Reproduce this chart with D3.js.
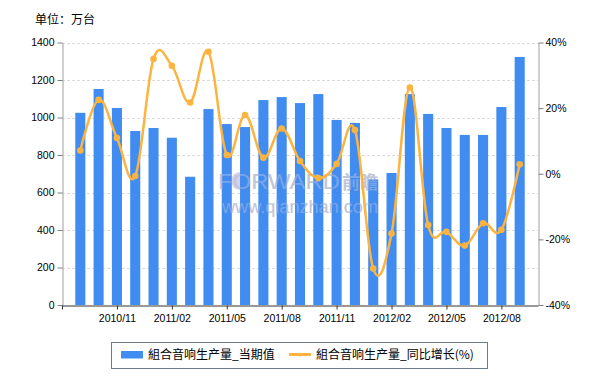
<!DOCTYPE html>
<html><head><meta charset="utf-8">
<script src="https://cdn.jsdelivr.net/npm/d3@7"></script>
<style>
html,body{margin:0;padding:0;background:#fff;}
svg{display:block;}
text{font-family:"Liberation Sans",Arial,sans-serif;}
.cjk{font-family:"Noto Sans CJK SC","Noto Sans",sans-serif;}
</style></head>
<body>
<svg id="c" width="600" height="380"></svg>
<script>
const categories = ["2010/09","2010/10","2010/11","2010/12","2011/01","2011/02","2011/03","2011/04","2011/05","2011/06","2011/07","2011/08","2011/09","2011/10","2011/11","2011/12","2012/01","2012/02","2012/03","2012/04","2012/05","2012/06","2012/07","2012/08","2012/09"];
const output = [1025,1152,1051,928,944,892,684,1045,965,949,1093,1109,1077,1125,987,971,670,704,1125,1019,944,907,907,1056,1323];
const growth = [7.1,22.5,10.9,-0.7,35.0,32.9,21.7,37.2,5.7,17.9,4.9,13.8,3.9,-1.3,3.0,13.3,-28.9,-18.2,26.3,-15.6,-17.7,-21.9,-15.1,-17.1,2.9];
const leftTicks = [0,200,400,600,800,1000,1200,1400];
const rightTicks = [-40,-20,0,20,40];
const xTickIdx = [-1,2,5,8,11,14,17,20,23];
const unitLabel = "单位：万台";
const seriesNames = ["組合音响生产量_当期值","組合音响生产量_同比增长(%)"];

const barColor = "#418CF0", lineColor = "#FCB441";
const svg = d3.select("#c");
const L = 62, R = 538, T = 42.5, B = 305;

const x = d3.scaleLinear().domain([-1, categories.length]).range([L, R]);
const yL = d3.scaleLinear().domain([0, 1400]).range([B, T]);
const yR = d3.scaleLinear().domain([-40, 40]).range([B, T]);
const bw = (x(1) - x(0)) * 0.55;

// title
svg.append("text").attr("class","cjk").attr("x",35).attr("y",23.5)
  .attr("font-size",12).attr("fill","#000").text(unitLabel);

// grid
svg.append("g").selectAll("line").data(leftTicks.slice(1)).join("line")
  .attr("x1",L).attr("x2",R).attr("y1",d=>Math.round(yL(d))+0.5).attr("y2",d=>Math.round(yL(d))+0.5)
  .attr("stroke","#dcdcdc").attr("stroke-dasharray","3,2");

// watermark
const wm = svg.append("g").attr("opacity",0.75);
wm.append("circle").attr("cx",240).attr("cy",181).attr("r",9).attr("fill","#b8a8d8").attr("opacity",0.7);
wm.append("text").attr("x",218).attr("y",189).attr("font-family","Liberation Serif,serif")
  .attr("font-size",22).attr("fill","#a8b0c4").attr("textLength",122).attr("lengthAdjust","spacingAndGlyphs").text("FORWARD");
wm.append("text").attr("class","cjk").attr("x",342).attr("y",189).attr("font-size",18).attr("font-weight","bold")
  .attr("fill","#a8b0c4").text("前瞻");
wm.append("text").attr("x",222).attr("y",213).attr("font-size",18).attr("fill","#a8b0c4")
  .attr("textLength",156).attr("lengthAdjust","spacingAndGlyphs").text("www.qianzhan.com");

// bars
svg.append("g").selectAll("rect").data(output).join("rect")
  .attr("x",(d,i)=>x(i)-bw/2).attr("width",bw)
  .attr("y",d=>yL(d)).attr("height",d=>B-yL(d)).attr("fill",barColor);

// watermark overlay on bars (semi-transparent)
const wm2 = svg.append("g").attr("opacity",0.4);
wm2.append("text").attr("x",218).attr("y",189).attr("font-family","Liberation Serif,serif")
  .attr("font-size",22).attr("fill","#c8cce0").attr("textLength",122).attr("lengthAdjust","spacingAndGlyphs").text("FORWARD");
wm2.append("text").attr("class","cjk").attr("x",342).attr("y",189).attr("font-size",18).attr("font-weight","bold")
  .attr("fill","#c8cce0").text("前瞻");
wm2.append("text").attr("x",222).attr("y",213).attr("font-size",18).attr("fill","#c8cce0")
  .attr("textLength",156).attr("lengthAdjust","spacingAndGlyphs").text("www.qianzhan.com");

// line
const line = d3.line().x((d,i)=>x(i)).y(d=>yR(d)).curve(d3.curveCardinal.tension(-0.1));
svg.append("path").datum(growth).attr("d",line).attr("fill","none")
  .attr("stroke",lineColor).attr("stroke-width",2.5);
svg.append("g").selectAll("circle").data(growth).join("circle")
  .attr("cx",(d,i)=>x(i)).attr("cy",d=>yR(d)).attr("r",3.3).attr("fill",lineColor);

// left axis
const ga = svg.append("g").attr("transform",`translate(${L+0.5},0)`)
  .call(d3.axisLeft(yL).tickValues(leftTicks).tickFormat(d3.format("d")).tickSize(5).tickPadding(3).tickSizeOuter(0));
ga.select(".domain").attr("stroke","#a0a0a0");
ga.selectAll(".tick line").attr("stroke","#808080");
ga.selectAll("text").attr("font-size",10.5).attr("fill","#000").attr("font-family","Liberation Sans,Arial,sans-serif");

// right axis
const gr = svg.append("g").attr("transform",`translate(${R+0.5},0)`)
  .call(d3.axisRight(yR).tickValues(rightTicks).tickSize(5).tickPadding(2).tickSizeOuter(0).tickFormat(d=>d+"%"));
gr.select(".domain").attr("stroke","#a0a0a0");
gr.selectAll(".tick line").attr("stroke","#808080");
gr.selectAll("text").attr("font-size",10.5).attr("fill","#000").attr("font-family","Liberation Sans,Arial,sans-serif");

// bottom axis
const gb = svg.append("g").attr("transform",`translate(0,${B+0.5})`)
  .call(d3.axisBottom(x).tickValues(xTickIdx).tickSize(4).tickPadding(5).tickSizeOuter(0)
    .tickFormat(i=> i>=0 ? categories[i] : ""));
gb.select(".domain").attr("stroke","#333");
gb.selectAll(".tick line").attr("stroke","#333");
gb.selectAll("text").attr("font-size",10.5).attr("fill","#000").attr("font-family","Liberation Sans,Arial,sans-serif");

// legend
const lg = svg.append("g");
lg.append("rect").attr("x",111.5).attr("y",342.5).attr("width",376).attr("height",26)
  .attr("fill","#fff").attr("stroke","#6d7b8d");
lg.append("rect").attr("x",121).attr("y",351).attr("width",22).attr("height",7.5).attr("fill",barColor);
lg.append("text").attr("class","cjk").attr("x",148).attr("y",359).attr("font-size",12).attr("fill","#000").text(seriesNames[0]);
lg.append("line").attr("x1",289).attr("x2",311).attr("y1",354.5).attr("y2",354.5).attr("stroke",lineColor).attr("stroke-width",3);
lg.append("circle").attr("cx",300).attr("cy",355).attr("r",1.5).attr("fill",lineColor);
lg.append("text").attr("class","cjk").attr("x",316).attr("y",359).attr("font-size",12).attr("fill","#000").text(seriesNames[1]);
</script>
</body></html>
